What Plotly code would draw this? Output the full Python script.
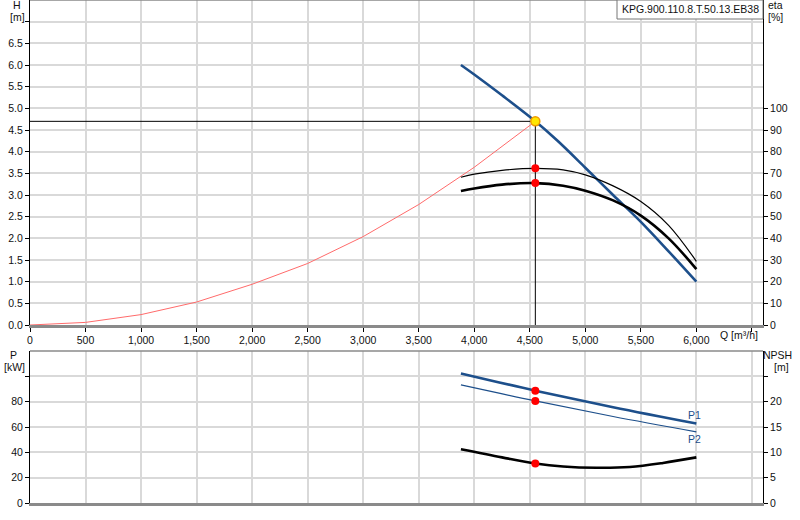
import plotly.graph_objects as go

# ---------------- data ----------------
Q_H = [3880, 4000, 4250, 4550, 4750, 5000, 5250, 5500, 5750, 6000]
H = [6.0, 5.78, 5.30, 4.70, 4.25, 3.63, 3.00, 2.38, 1.70, 1.00]

Q_eta = [3880, 4000, 4250, 4550, 4800, 5000, 5250, 5500, 5750, 6000]
eta_thin = [68.2, 69.6, 71.4, 72.3, 71.6, 69.3, 64.2, 57.0, 46.0, 29.4]
eta_thick = [61.8, 63.0, 64.8, 65.5, 64.3, 62.0, 57.5, 50.5, 40.0, 25.8]

Q_sys = [0, 500, 1000, 1500, 2000, 2500, 3000, 3500, 4000, 4550]
H_sys = [0, 0.06, 0.24, 0.53, 0.94, 1.42, 2.04, 2.78, 3.64, 4.70]

Q_P = [3880, 4550, 5250, 6000]
P1 = [102.3, 88.7, 75.6, 62.7]
P2 = [93.2, 80.6, 68.3, 56.2]

Q_N = [3880, 4250, 4550, 4800, 5100, 5400, 5700, 6000]
NPSH = [10.6, 9.0, 7.8, 7.2, 6.95, 7.1, 7.9, 9.0]

Q_op = 4550
H_op = 4.7
eta_op = [72.3, 65.5]
P_op = [88.7, 80.6]
NPSH_op = 7.8

x_ticks = list(range(0, 7000, 500))
x_text = [f"{v:,}" if v <= 6000 else "" for v in x_ticks]
h_ticks = [i * 0.5 for i in range(15)]
h_text = [f"{v:.1f}" if v <= 6.5 else "" for v in h_ticks]
eta_ticks = list(range(0, 110, 10))
p_ticks = list(range(0, 120, 20))
p_text = [str(v) if v <= 80 else "" for v in p_ticks]
n_ticks = list(range(0, 30, 5))
n_text = [str(v) if v <= 20 else "" for v in n_ticks]

title_text = "KPG.900.110.8.T.50.13.EB38"

BLUE = "#1d4f8b"
GRID = "#d9d9d9"
FONT = "Liberation Sans, Arial, sans-serif"

fig = go.Figure()

# top panel
fig.add_trace(go.Scatter(x=Q_sys, y=H_sys, mode="lines", line=dict(color="#ff6b6b", width=1),
                         xaxis="x", yaxis="y", hoverinfo="skip"))
fig.add_trace(go.Scatter(x=[0, Q_op], y=[H_op, H_op], mode="lines", line=dict(color="black", width=1),
                         xaxis="x", yaxis="y", hoverinfo="skip"))
fig.add_trace(go.Scatter(x=[Q_op, Q_op], y=[H_op, 0], mode="lines", line=dict(color="black", width=1),
                         xaxis="x", yaxis="y", hoverinfo="skip"))
fig.add_trace(go.Scatter(x=Q_eta, y=eta_thin, mode="lines", line=dict(color="black", width=1.2, shape="spline"),
                         xaxis="x", yaxis="y2", hoverinfo="skip"))
fig.add_trace(go.Scatter(x=Q_eta, y=eta_thick, mode="lines", line=dict(color="black", width=2.6, shape="spline"),
                         xaxis="x", yaxis="y2", hoverinfo="skip"))
fig.add_trace(go.Scatter(x=Q_H, y=H, mode="lines", line=dict(color=BLUE, width=2.6, shape="spline"),
                         xaxis="x", yaxis="y", hoverinfo="skip"))
fig.add_trace(go.Scatter(x=[Q_op, Q_op], y=eta_op, mode="markers",
                         marker=dict(color="#ff0000", size=8, line=dict(width=0)),
                         xaxis="x", yaxis="y2", hoverinfo="skip"))
fig.add_trace(go.Scatter(x=[Q_op], y=[H_op], mode="markers",
                         marker=dict(color="#ffe600", size=9, line=dict(color="#f09a00", width=1.5)),
                         xaxis="x", yaxis="y", hoverinfo="skip"))

# bottom panel
fig.add_trace(go.Scatter(x=Q_P, y=P1, mode="lines", line=dict(color=BLUE, width=2.6, shape="spline"),
                         xaxis="x2", yaxis="y3", hoverinfo="skip"))
fig.add_trace(go.Scatter(x=Q_P, y=P2, mode="lines", line=dict(color=BLUE, width=1.2, shape="spline"),
                         xaxis="x2", yaxis="y3", hoverinfo="skip"))
fig.add_trace(go.Scatter(x=Q_N, y=NPSH, mode="lines", line=dict(color="black", width=2.6, shape="spline"),
                         xaxis="x2", yaxis="y4", hoverinfo="skip"))
fig.add_trace(go.Scatter(x=[Q_op, Q_op], y=P_op, mode="markers",
                         marker=dict(color="#ff0000", size=8, line=dict(width=0)),
                         xaxis="x2", yaxis="y3", hoverinfo="skip"))
fig.add_trace(go.Scatter(x=[Q_op], y=[NPSH_op], mode="markers",
                         marker=dict(color="#ff0000", size=8, line=dict(width=0)),
                         xaxis="x2", yaxis="y4", hoverinfo="skip"))

# geometry (pixels -> paper)
PL, PR, PT, PB = 30, 763, 0, 503
def px(x):
    return (x - PL) / (PR - PL)
def py(y):
    return (PB - y) / (PB - PT)

top_dom = [py(325), 1.0]
bot_dom = [0.0, py(351)]

tickfont = dict(family=FONT, size=10.5, color="#111")
common_x = dict(range=[0, 6600], tickvals=x_ticks, showgrid=True, gridcolor=GRID, gridwidth=1.5,
                showline=True, linecolor="#8a8a8a", linewidth=2.5, zeroline=False, fixedrange=True)
common_y = dict(showgrid=True, gridcolor=GRID, gridwidth=1.5, showline=True, linecolor="black",
                linewidth=1, ticks="outside", ticklen=4, tickcolor="black", zeroline=False,
                tickfont=tickfont, fixedrange=True)

fig.update_layout(
    width=800, height=520,
    margin=dict(l=PL, r=800 - PR, t=PT, b=520 - PB),
    paper_bgcolor="white", plot_bgcolor="white",
    showlegend=False,
    font=dict(family=FONT, size=10.5, color="#111"),
    xaxis=dict(domain=[0, 1], anchor="y", ticktext=x_text, ticks="outside", ticklen=4,
               tickcolor="black", tickfont=tickfont, **common_x),
    xaxis2=dict(domain=[0, 1], anchor="y3", showticklabels=False, ticks="", **common_x),
    yaxis=dict(domain=top_dom, anchor="x", range=[0, 7.5], tickvals=h_ticks, ticktext=h_text, **common_y),
    yaxis2=dict(overlaying="y", side="right", anchor="x", range=[0, 150], tickvals=eta_ticks,
                showgrid=False, showline=True, linecolor="black", linewidth=1, ticks="outside",
                ticklen=4, tickcolor="black", tickfont=tickfont, zeroline=False, fixedrange=True),
    yaxis3=dict(domain=bot_dom, anchor="x2", range=[0, 120], tickvals=p_ticks, ticktext=p_text, **common_y),
    yaxis4=dict(overlaying="y3", side="right", anchor="x2", range=[0, 30], tickvals=n_ticks, ticktext=n_text,
                showgrid=False, showline=True, linecolor="black", linewidth=1, ticks="outside",
                ticklen=4, tickcolor="black", tickfont=tickfont, zeroline=False, fixedrange=True),
)

# borders
fig.add_shape(type="line", xref="paper", yref="paper", x0=0, x1=1, y0=1, y1=1,
              line=dict(color="#8a8a8a", width=1.5))
fig.add_shape(type="line", xref="paper", yref="paper", x0=0, x1=1, y0=bot_dom[1], y1=bot_dom[1],
              line=dict(color="#8a8a8a", width=1.5))
# title box
fig.add_shape(type="rect", xref="paper", yref="paper", x0=px(617), x1=px(763), y0=py(19), y1=py(0),
              line=dict(color="#777", width=1), fillcolor="white", layer="above")

def label(text, x, y, color="#111", size=10.5):
    fig.add_annotation(text=text, xref="paper", yref="paper", x=px(x), y=py(y),
                       xanchor="center", yanchor="middle", showarrow=False,
                       font=dict(family=FONT, size=size, color=color))

label(title_text, 690, 9.5)
label("H", 16.5, 5.5)
label("[m]", 17, 17)
label("eta", 775, 5.5)
label("[%]", 775, 17)
label("Q [m³/h]", 739, 335)
label("P", 13, 355)
label("[kW]", 14, 367)
label("NPSH", 777, 355)
label("[m]", 781, 367)

fig.add_annotation(text="P1", x=Q_P[-1], y=P1[-1], xref="x2", yref="y3", showarrow=False,
                   xanchor="center", yanchor="middle", yshift=9, xshift=-2,
                   font=dict(family=FONT, size=10.5, color=BLUE))
fig.add_annotation(text="P2", x=Q_P[-1], y=P2[-1], xref="x2", yref="y3", showarrow=False,
                   xanchor="center", yanchor="middle", yshift=-7, xshift=-2,
                   font=dict(family=FONT, size=10.5, color=BLUE))

fig.write_html("out.html", config={"displayModeBar": False},
               post_script="document.body.style.margin='0';document.body.style.overflow='hidden';")
